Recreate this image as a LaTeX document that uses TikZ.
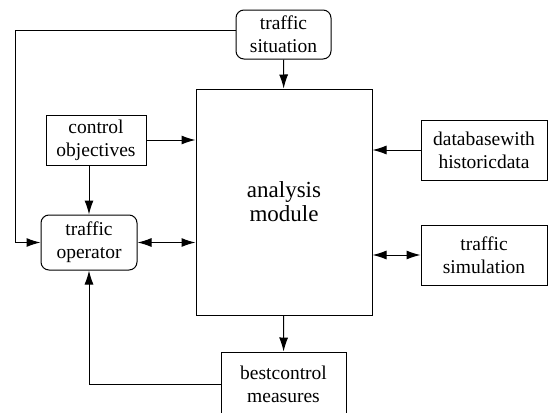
\documentclass[tikz,border=0pt]{standalone}
\usepackage{fontspec}
\setmainfont{Liberation Serif}
\usetikzlibrary{arrows.meta}

\begin{document}
\begin{tikzpicture}[
  x=0.5pt, y=-0.5pt,
  line width=0.5pt,
  >={Latex[length=7pt,width=4.5pt]},
  % styles for the boxes
  bloc/.style={rectangle, draw, inner sep=0pt, align=center,
    font=\fontsize{9.75}{11.5}\selectfont},
  acteur/.style={bloc, rounded corners=4pt},
  module/.style={bloc, font=\fontsize{11.5}{12}\selectfont}
]
\useasboundingbox (0,0) rectangle (550,412);

% the boxes
\node[acteur, minimum width=47.5pt, minimum height=24.5pt] (situation) at (283.5,34.5) {traffic\\situation};
\node[module, minimum width=88pt, minimum height=113pt] (analyse) at (284,202) {analysis\\module};
\node[bloc, minimum width=50pt, minimum height=25pt] (objectifs) at (96,140) {control\\objectives};
\node[acteur, minimum width=48pt, minimum height=27.5pt] (operateur) at (89,242.5) {traffic\\operator};
\node[bloc, minimum width=63pt, minimum height=30pt] (base) at (484,150) {databasewith\\historicdata};
\node[bloc, minimum width=63pt, minimum height=30pt] (simulation) at (484,255) {traffic\\simulation};
\node[bloc, minimum width=62.5pt, minimum height=32pt] (mesures) at (283.5,384) {bestcontrol\\measures};

\coordinate (gauche) at (15,30);

% the arrows
\draw[->] (situation) -- (analyse);
\draw[->] (situation.west |- gauche) -- (gauche) |- (operateur.west);
\draw[->] (objectifs) -- (objectifs -| analyse.west);
\draw[->] (objectifs.south -| operateur.north) -- (operateur.north);
\draw[<->] (operateur.east) -- (operateur.east -| analyse.west);
\draw[->] (base) -- (base -| analyse.east);
\draw[<->] (analyse.east |- simulation) -- (simulation);
\draw[->] (analyse) -- (mesures);
\draw[->] (mesures.west) -| (operateur.south);
\end{tikzpicture}
\end{document}
